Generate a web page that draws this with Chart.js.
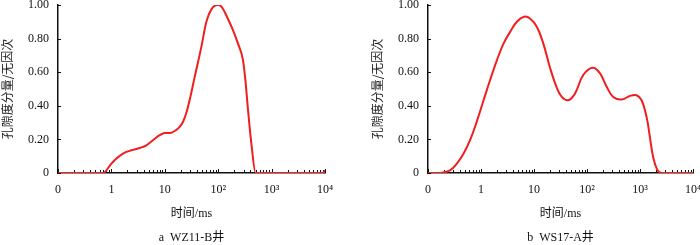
<!DOCTYPE html>
<html><head><meta charset="utf-8">
<script src="https://cdn.jsdelivr.net/npm/chart.js@4.4.1/dist/chart.umd.min.js"></script>
<style>
body{margin:0;background:#fff;width:700px;height:245px;overflow:hidden;position:relative}
canvas{position:absolute;top:0}
#c1{left:0}#c2{left:350px}
</style></head>
<body>
<canvas id="c1" width="350" height="245"></canvas>
<canvas id="c2" width="350" height="245"></canvas>
<script>
// ---- data ----
const xTickValues = [0.1, 1, 10, 100, 1000, 10000];
const xTickLabels = ['0', '1', '10', '10²', '10³', '10⁴'];
const yTickValues = [0, 0.2, 0.4, 0.6, 0.8, 1.0];
const yTickLabels = ['0', '0.20', '0.40', '0.60', '0.80', '1.00'];

const timeA  = [0.1, 0.3, 0.70, 1.0, 1.24, 1.65, 2.37, 3.39, 4.52, 6.0, 8.0, 10, 12.4, 15.3, 19, 22, 26, 30, 36.3, 48.4, 60, 74.5, 96.6, 115, 151, 189, 235, 291, 323, 362, 418, 502, 1000, 5000, 9100, 10000];
const valueA = [0, 0, 0, 0.056, 0.086, 0.116, 0.135, 0.149, 0.165, 0.195, 0.225, 0.238, 0.238, 0.25, 0.275, 0.305, 0.37, 0.45, 0.572, 0.751, 0.9, 0.974, 1.0, 0.99, 0.92, 0.851, 0.77, 0.672, 0.553, 0.374, 0.175, 0, 0, 0, 0, 0.016];

const timeB  = [0.1, 0.17, 0.26, 0.35, 0.47, 0.63, 0.84, 1.11, 1.49, 2.0, 2.66, 3.55, 4.74, 6.5, 8.4, 11.3, 15, 20, 26.9, 33.4, 44.5, 59.4, 85, 128, 176, 235, 313, 450, 646, 863, 1070, 1330, 1535, 1770, 2110, 2550, 5000, 10000];
const valueB = [0, 0, 0.016, 0.056, 0.116, 0.2, 0.31, 0.43, 0.555, 0.672, 0.77, 0.84, 0.9, 0.93, 0.92, 0.87, 0.77, 0.628, 0.508, 0.453, 0.433, 0.473, 0.583, 0.626, 0.593, 0.513, 0.453, 0.437, 0.459, 0.463, 0.433, 0.334, 0.215, 0.095, 0.02, 0, 0, 0];

const xTitle = '时间/ms';
const yTitle = '孔隙度分量/无因次';
const captionA = 'a  WZ11-B井';
const captionB = 'b  WS17-A井';

// ---- drawing ----
const SERIF = '"Liberation Serif", "DejaVu Serif", "Noto Sans CJK SC", serif';
const CJK = '"Noto Sans CJK SC", "Liberation Serif", sans-serif';

const innerTicks = {
  id: 'innerTicks',
  beforeDatasetsDraw(chart) {
    const {ctx, chartArea: a} = chart;
    const x = chart.scales.x, y = chart.scales.y;
    ctx.save();
    ctx.strokeStyle = '#111';
    ctx.lineWidth = 1;
    ctx.beginPath();
    for (let i = 0; i < xTickValues.length; i++) {
      const d = xTickValues[i];
      const maxM = (i === xTickValues.length - 1) ? 1 : 9;
      for (let m = 1; m <= maxM; m++) {
        const px = Math.round(x.getPixelForValue(m * d)) + 0.5;
        const len = m === 1 ? 4 : 3;
        ctx.moveTo(px, a.bottom);
        ctx.lineTo(px, a.bottom - len);
      }
    }
    yTickValues.forEach(v => {
      const py = Math.round(y.getPixelForValue(v)) + 0.5;
      ctx.moveTo(a.left, py);
      ctx.lineTo(a.left + 3, py);
    });
    ctx.stroke();
    ctx.restore();
  }
};

function makeChart(id, times, values, caption, padLeft, padRight, smooth) {
  const pts = times.map((t, i) => ({x: t, y: values[i]}));
  const ds = {
    data: pts,
    borderColor: '#f01e1e',
    borderWidth: 2,
    pointRadius: 0,
    fill: false
  };
  if (smooth) { ds.tension = 0.4; } else { ds.cubicInterpolationMode = 'monotone'; }
  return new Chart(document.getElementById(id), {
    type: 'line',
    data: { datasets: [ds] },
    options: {
      responsive: false,
      animation: false,
      events: [],
      layout: { padding: { left: padLeft, right: padRight, top: 5, bottom: 0 } },
      plugins: {
        legend: { display: false },
        tooltip: { enabled: false },
        title: {
          display: true,
          position: 'bottom',
          fullSize: false,
          text: caption,
          color: '#111',
          font: { family: SERIF, size: 12, weight: 'normal' },
          padding: { top: 0, bottom: 0 }
        }
      },
      scales: {
        x: {
          type: 'logarithmic',
          min: 0.1, max: 10000,
          afterBuildTicks: s => { s.ticks = xTickValues.map(v => ({value: v})); },
          afterFit: s => { s.height = 57.6; s.paddingLeft = 0; s.paddingRight = 0; },
          grid: { display: false, drawTicks: false },
          border: { display: true, color: '#111', width: 1.5 },
          ticks: {
            autoSkip: false, maxRotation: 0, padding: 10,
            color: '#111',
            font: { family: SERIF, size: 12 },
            callback: (v, i) => xTickLabels[i]
          },
          title: {
            display: true, text: xTitle, color: '#111',
            font: { family: SERIF, size: 12 },
            padding: { top: 0, bottom: 9.4 }
          }
        },
        y: {
          min: 0, max: 1,
          afterBuildTicks: s => { s.ticks = yTickValues.map(v => ({value: v})); },
          afterFit: s => { s.width = 58; s.paddingTop = 0; s.paddingBottom = 0; },
          grid: { display: false, drawTicks: false },
          border: { display: true, color: '#111', width: 1.5 },
          ticks: {
            padding: 9,
            color: '#111',
            font: { family: SERIF, size: 12 },
            callback: (v, i) => yTickLabels[i]
          },
          title: {
            display: true, text: yTitle, color: '#222',
            font: { family: CJK, size: 12 },
            padding: { top: 0, bottom: 0 }
          }
        }
      }
    },
    plugins: [innerTicks]
  });
}

makeChart('c1', timeA, valueA, captionA, 0, 25, false);
makeChart('c2', timeB, valueB, captionB, 20, 7, true);
</script>
</body></html>
